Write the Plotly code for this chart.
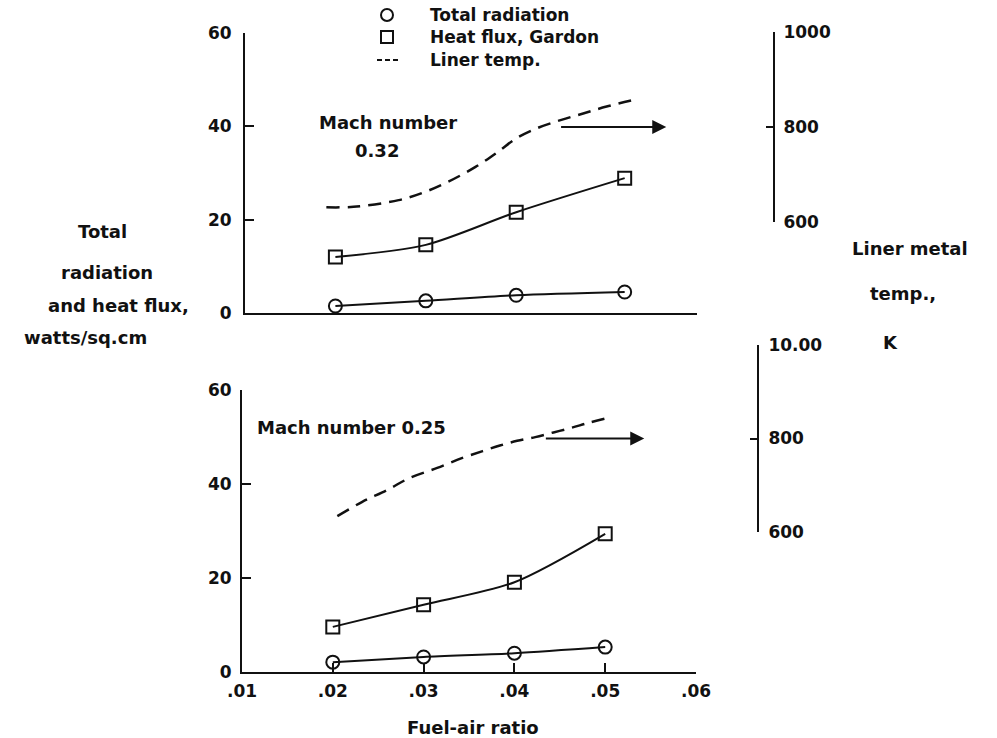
import plotly.graph_objects as go

W, H = 997, 738

# ---- data -------------------------------------------------------------
# Mach number 0.32 (upper panel)
far_hi = [0.02, 0.03, 0.04, 0.052]
rad_hi = [1.5, 2.6, 3.8, 4.5]            # total radiation, W/sq.cm
flux_hi = [12.0, 14.6, 21.6, 28.9]       # heat flux (Gardon gauge), W/sq.cm
far_t_hi = [0.019, 0.022, 0.027, 0.030, 0.0325, 0.0355, 0.038, 0.040, 0.0425, 0.045, 0.0475, 0.050, 0.053]
temp_hi = [631, 632, 646, 664, 685, 716, 748, 776, 799, 815, 829, 843, 857]  # liner temp, K

# Mach number 0.25 (lower panel)
far_lo = [0.02, 0.03, 0.04, 0.05]
rad_lo = [2.1, 3.2, 4.0, 5.3]
flux_lo = [9.6, 14.3, 19.1, 29.4]
far_t_lo = [0.0205, 0.0232, 0.026, 0.0285, 0.0315, 0.0342, 0.0365, 0.0384, 0.0403, 0.0423, 0.0443, 0.0463, 0.0481, 0.0503]
temp_lo = [634, 664, 690, 716, 737, 758, 773, 785, 795, 803, 813, 823, 833, 844]

x_ticks = [0.01, 0.02, 0.03, 0.04, 0.05, 0.06]
x_ticktext = [".01", ".02", ".03", ".04", ".05", ".06"]
y_ticks = [0, 20, 40, 60]
t_ticks = [600, 800, 1000]
t_ticktext_hi = ["600", "800", "1000"]
t_ticktext_lo = ["600", "800", "10.00"]
legend_labels = ["Total radiation", "Heat flux, Gardon", "Liner temp."]
arrow_temp = 800  # arrows point to the liner-temperature scale

FONT = "DejaVu Sans"
INK = "#111111"


def fx(xp):
    return xp / W


def fy(yp):
    return 1 - yp / H


fig = go.Figure()

circle = dict(symbol="circle-open", size=13, color=INK, line=dict(width=2, color=INK))
square = dict(symbol="square-open", size=13, color=INK, line=dict(width=2, color=INK))
solid = dict(color=INK, width=2, shape="spline", smoothing=0.8)
dashed = dict(color=INK, width=2.5, dash="13px,8px", shape="spline", smoothing=1.0)

# upper panel
fig.add_trace(go.Scatter(x=far_hi, y=rad_hi, mode="lines+markers", line=solid, marker=circle,
                         xaxis="x", yaxis="y", name=legend_labels[0]))
fig.add_trace(go.Scatter(x=far_hi, y=flux_hi, mode="lines+markers", line=solid, marker=square,
                         xaxis="x", yaxis="y", name=legend_labels[1]))
fig.add_trace(go.Scatter(x=far_t_hi, y=temp_hi, mode="lines", line=dashed, xaxis="x3", yaxis="y3",
                         name=legend_labels[2]))

# lower panel
fig.add_trace(go.Scatter(x=far_lo, y=rad_lo, mode="lines+markers", line=solid, marker=circle,
                         xaxis="x2", yaxis="y2", name=legend_labels[0]))
fig.add_trace(go.Scatter(x=far_lo, y=flux_lo, mode="lines+markers", line=solid, marker=square,
                         xaxis="x2", yaxis="y2", name=legend_labels[1]))
fig.add_trace(go.Scatter(x=far_t_lo, y=temp_lo, mode="lines", line=dashed, xaxis="x4", yaxis="y4",
                         name=legend_labels[2]))

tick_font = dict(family=FONT, size=17, color=INK, weight="bold")
axis_common = dict(showgrid=False, zeroline=False, showline=True, linecolor=INK, linewidth=2,
                   tickcolor=INK, tickwidth=2, tickfont=tick_font, fixedrange=True, automargin=False)

fig.update_layout(
    width=W, height=H,
    margin=dict(l=0, r=0, t=0, b=0, autoexpand=False),
    paper_bgcolor="white", plot_bgcolor="rgba(0,0,0,0)",
    font=dict(family=FONT, size=17, color=INK),
    showlegend=False,
    xaxis=dict(domain=[fx(245), fx(697)], range=[0.01, 0.06], anchor="y",
               showticklabels=False, ticks="", **axis_common),
    yaxis=dict(domain=[fy(313), fy(33)], range=[0, 60], anchor="x", tickvals=y_ticks,
               ticks="inside", ticklen=9, ticklabelstandoff=8, **axis_common),
    xaxis2=dict(domain=[fx(242), fx(696)], range=[0.01, 0.06], anchor="y2", tickvals=x_ticks,
                ticktext=x_ticktext, ticks="inside", ticklen=9, ticklabelstandoff=3, **axis_common),
    yaxis2=dict(domain=[fy(672), fy(390)], range=[0, 60], anchor="x2", tickvals=y_ticks,
                ticks="inside", ticklen=9, ticklabelstandoff=5, **axis_common),
    xaxis3=dict(domain=[fx(245), fx(697)], range=[0.01, 0.06], anchor="y3", visible=False),
    yaxis3=dict(domain=[fy(222), fy(32)], range=[600, 1000], anchor="free", position=fx(774),
                side="right", tickvals=t_ticks, ticktext=t_ticktext_hi, ticks="inside", ticklen=7,
                ticklabelstandoff=5, **axis_common),
    xaxis4=dict(domain=[fx(242), fx(696)], range=[0.01, 0.06], anchor="y4", visible=False),
    yaxis4=dict(domain=[fy(532), fy(345)], range=[600, 1000], anchor="free", position=fx(758),
                side="right", tickvals=t_ticks, ticktext=t_ticktext_lo, ticks="inside", ticklen=7,
                ticklabelstandoff=6, **axis_common),
)

label_font = dict(family=FONT, size=18, color=INK, weight="bold")


def note(text, xp, yp, anchor="center", size=18):
    fig.add_annotation(text=text, x=fx(xp), y=fy(yp), xref="paper", yref="paper",
                       xanchor=anchor, yanchor="middle", showarrow=False,
                       font=dict(label_font, size=size))


# key: symbol column and text column
key_x, key_text_x = 387, 428
key_rows = [15, 37, 60]
r = 6
fig.add_shape(type="circle", xref="paper", yref="paper",
              x0=fx(key_x - r), x1=fx(key_x + r), y0=fy(key_rows[0] + r), y1=fy(key_rows[0] - r),
              line=dict(color=INK, width=2))
fig.add_shape(type="rect", xref="paper", yref="paper",
              x0=fx(key_x - r), x1=fx(key_x + r), y0=fy(key_rows[1] + r), y1=fy(key_rows[1] - r),
              line=dict(color=INK, width=2))
fig.add_shape(type="line", xref="paper", yref="paper",
              x0=fx(key_x - 10), x1=fx(key_x + 12), y0=fy(key_rows[2]), y1=fy(key_rows[2]),
              line=dict(color=INK, width=2, dash="5px,3px"))
for label, row in zip(legend_labels, key_rows):
    note(label, key_text_x, row, anchor="left", size=17)

# axis titles
note("Total", 102, 232)
note("radiation", 107, 272)
note("and heat flux,", 118, 306)
note("watts/sq.cm", 85, 338)
note("Liner metal", 910, 248)
note("temp.,", 903, 293)
note("K", 890, 343)
note("Fuel-air ratio", 473, 727)

# panel labels
note("Mach number", 388, 123)
note("0.32", 377, 150)
note("Mach number 0.25", 255, 427, anchor="left")

# arrows pointing each dashed curve to its temperature scale
for xr, yr, x0, x1 in [("x3", "y3", 0.0448, 0.0566), ("x4", "y4", 0.0433, 0.0543)]:
    fig.add_annotation(x=x1, y=arrow_temp, ax=x0, ay=arrow_temp, xref=xr, yref=yr,
                       axref=xr, ayref=yr, text="", showarrow=True, arrowhead=2,
                       arrowsize=1.4, arrowwidth=2, arrowcolor=INK)

fig.write_html("out.html")
